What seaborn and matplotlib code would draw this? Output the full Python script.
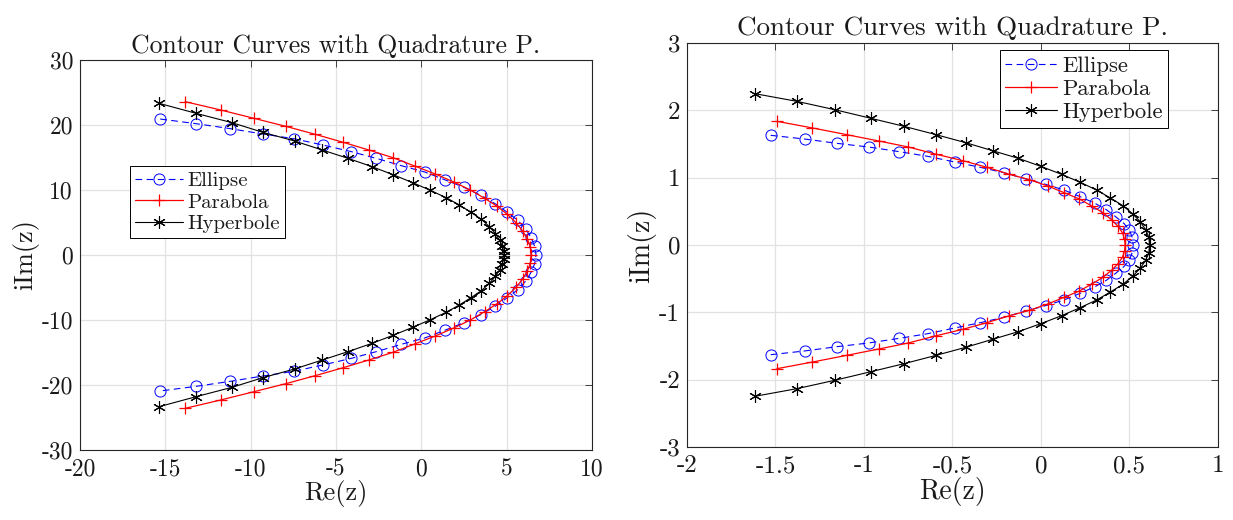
import matplotlib
matplotlib.use("Agg")
import matplotlib.pyplot as plt
import seaborn as sns
import numpy as np

# ---------------- data ----------------
# Left panel
L_ell_x = [-15.30, -13.21, -11.20, -9.30, -7.49, -5.77, -4.10, -2.64, -1.17, 0.20, 1.41, 2.50, 3.48, 4.32, 5.04, 5.65, 6.12, 6.43, 6.64, 6.72,
           6.64, 6.43, 6.12, 5.65, 5.04, 4.32, 3.48, 2.50, 1.41, 0.20, -1.17, -2.64, -4.10, -5.77, -7.49, -9.30, -11.20, -13.21, -15.30]
L_ell_y = [20.92, 20.21, 19.44, 18.62, 17.90, 16.92, 15.90, 14.87, 13.74, 12.77, 11.54, 10.41, 9.18, 7.90, 6.56, 5.33, 4.00, 2.67, 1.33, 0.0,
           -1.33, -2.67, -4.00, -5.33, -6.56, -7.90, -9.18, -10.41, -11.54, -12.77, -13.74, -14.87, -15.90, -16.92, -17.90, -18.62, -19.44, -20.21, -20.92]

L_par_x = [-13.84, -11.76, -9.81, -7.93, -6.21, -4.57, -3.07, -1.66, -0.39, 0.82, 1.90, 2.87, 3.71, 4.44, 5.04, 5.55, 5.94, 6.21, 6.39, 6.45,
           6.39, 6.21, 5.94, 5.55, 5.04, 4.44, 3.71, 2.87, 1.90, 0.82, -0.39, -1.66, -3.07, -4.57, -6.21, -7.93, -9.81, -11.76, -13.84]
L_par_y = [23.59, 22.31, 21.03, 19.79, 18.56, 17.33, 16.15, 14.97, 13.69, 12.46, 11.23, 10.00, 8.72, 7.49, 6.26, 4.97, 3.69, 2.46, 1.23, 0.0,
           -1.23, -2.46, -3.69, -4.97, -6.26, -7.49, -8.72, -10.00, -11.23, -12.46, -13.69, -14.97, -16.15, -17.33, -18.56, -19.79, -21.03, -22.31, -23.59]

L_hyp_x = [-15.36, -13.19, -11.10, -9.28, -7.43, -5.80, -4.30, -2.89, -1.66, -0.51, 0.53, 1.45, 2.23, 2.91, 3.52, 3.99, 4.34, 4.59, 4.75, 4.83, 4.85,
           4.83, 4.75, 4.59, 4.34, 3.99, 3.52, 2.91, 2.23, 1.45, 0.53, -0.51, -1.66, -2.89, -4.30, -5.80, -7.43, -9.28, -11.10, -13.19, -15.36]
L_hyp_y = [23.33, 21.79, 20.36, 18.87, 17.54, 16.15, 14.87, 13.59, 12.36, 11.13, 9.95, 8.82, 7.69, 6.56, 5.49, 4.36, 3.28, 2.26, 1.33, 0.56, 0.0,
           -0.56, -1.33, -2.26, -3.28, -4.36, -5.49, -6.56, -7.69, -8.82, -9.95, -11.13, -12.36, -13.59, -14.87, -16.15, -17.54, -18.87, -20.36, -21.79, -23.33]

# Right panel
R_ell_x = [-1.527, -1.336, -1.153, -0.973, -0.800, -0.640, -0.488, -0.342, -0.210, -0.085, 0.026, 0.129, 0.221, 0.305, 0.369, 0.424, 0.470, 0.500, 0.515, 0.521,
           0.515, 0.500, 0.470, 0.424, 0.369, 0.305, 0.221, 0.129, 0.026, -0.085, -0.210, -0.342, -0.488, -0.640, -0.800, -0.973, -1.153, -1.336, -1.527]
R_ell_y = [1.629, 1.574, 1.510, 1.455, 1.386, 1.317, 1.233, 1.153, 1.074, 0.980, 0.901, 0.817, 0.718, 0.619, 0.525, 0.416, 0.317, 0.218, 0.114, 0.0,
           -0.114, -0.218, -0.317, -0.416, -0.525, -0.619, -0.718, -0.817, -0.901, -0.980, -1.074, -1.153, -1.233, -1.317, -1.386, -1.455, -1.510, -1.574, -1.629]

R_par_x = [-1.492, -1.291, -1.098, -0.917, -0.749, -0.591, -0.441, -0.305, -0.178, -0.065, 0.038, 0.131, 0.217, 0.287, 0.350, 0.400, 0.435, 0.461, 0.472, 0.476,
           0.472, 0.461, 0.435, 0.400, 0.350, 0.287, 0.217, 0.131, 0.038, -0.065, -0.178, -0.305, -0.441, -0.591, -0.749, -0.917, -1.098, -1.291, -1.492]
R_par_y = [1.837, 1.738, 1.639, 1.545, 1.455, 1.347, 1.252, 1.153, 1.050, 0.970, 0.876, 0.777, 0.683, 0.579, 0.480, 0.371, 0.277, 0.178, 0.084, 0.0,
           -0.084, -0.178, -0.277, -0.371, -0.480, -0.579, -0.683, -0.777, -0.876, -0.970, -1.050, -1.153, -1.252, -1.347, -1.455, -1.545, -1.639, -1.738, -1.837]

R_hyp_x = [-1.618, -1.380, -1.166, -0.960, -0.773, -0.593, -0.426, -0.274, -0.128, -0.001, 0.116, 0.221, 0.314, 0.392, 0.463, 0.517, 0.562, 0.591, 0.609, 0.614,
           0.609, 0.591, 0.562, 0.517, 0.463, 0.392, 0.314, 0.221, 0.116, -0.001, -0.128, -0.274, -0.426, -0.593, -0.773, -0.960, -1.166, -1.380, -1.618]
R_hyp_y = [2.248, 2.134, 2.010, 1.881, 1.762, 1.639, 1.520, 1.401, 1.287, 1.168, 1.050, 0.931, 0.817, 0.698, 0.584, 0.465, 0.342, 0.228, 0.119, 0.0,
           -0.119, -0.228, -0.342, -0.465, -0.584, -0.698, -0.817, -0.931, -1.050, -1.168, -1.287, -1.401, -1.520, -1.639, -1.762, -1.881, -2.010, -2.134, -2.248]

series_names = ["Ellipse", "Parabola", "Hyperbole"]
title_text = "Contour Curves with Quadrature P."
xlabel_text = "Re(z)"
ylabel_text = "iIm(z)"

L_xticks = [-20, -15, -10, -5, 0, 5, 10]
L_yticks = [-30, -20, -10, 0, 10, 20, 30]
R_xticks = [-2, -1.5, -1, -0.5, 0, 0.5, 1]
R_xticklabels = ["-2", "-1.5", "-1", "-0.5", "0", "0.5", "1"]
R_yticks = [-3, -2, -1, 0, 1, 2, 3]

# ---------------- styling ----------------
sns.set_style("white")
plt.rcParams["font.family"] = ["cmr10", "DejaVu Serif"]
plt.rcParams["axes.unicode_minus"] = False
plt.rcParams["mathtext.fontset"] = "cm"

TXT = "#1a1a1a"
AX = "#262626"
GRID = "#e2e2e2"

fig = plt.figure(figsize=(12.33, 5.2), dpi=100)
ax1 = fig.add_axes([80 / 1233, (520 - 450) / 520, 512 / 1233, 390 / 520])
ax2 = fig.add_axes([687 / 1233, (520 - 447) / 520, 531 / 1233, 404 / 520])

star = (6, 2, 0)


def draw(ax, ex, ey, px, py, hx, hy):
    sns.lineplot(x=ex, y=ey, sort=False, estimator=None, ax=ax, color="blue",
                 linestyle=(0, (6, 4)), linewidth=0.8, marker="o", markersize=8,
                 markerfacecolor="none", markeredgecolor="blue", markeredgewidth=0.7,
                 label=series_names[0], legend=False)
    sns.lineplot(x=px, y=py, sort=False, estimator=None, ax=ax, color="red",
                 linestyle="-", linewidth=0.9, marker="+", markersize=9,
                 markeredgecolor="red", markeredgewidth=0.9,
                 label=series_names[1], legend=False)
    sns.lineplot(x=hx, y=hy, sort=False, estimator=None, ax=ax, color="black",
                 linestyle="-", linewidth=0.8, marker=star, markersize=9,
                 markeredgecolor="black", markeredgewidth=0.8,
                 label=series_names[2], legend=False)


draw(ax1, L_ell_x, L_ell_y, L_par_x, L_par_y, L_hyp_x, L_hyp_y)
draw(ax2, R_ell_x, R_ell_y, R_par_x, R_par_y, R_hyp_x, R_hyp_y)

ax1.set_xlim(-20, 10)
ax1.set_ylim(-30, 30)
ax1.set_xticks(L_xticks)
ax1.set_xticklabels([str(t) for t in L_xticks])
ax1.set_yticks(L_yticks)
ax1.set_yticklabels([str(t) for t in L_yticks])

ax2.set_xlim(-2, 1)
ax2.set_ylim(-3, 3)
ax2.set_xticks(R_xticks)
ax2.set_xticklabels(R_xticklabels)
ax2.set_yticks(R_yticks)
ax2.set_yticklabels([str(t) for t in R_yticks])

sizes = {ax1: dict(tick=17, label=19, title=18.5, pad=5),
         ax2: dict(tick=18, label=20, title=19.5, pad=6)}

for ax in (ax1, ax2):
    sz = sizes[ax]
    ax.grid(True, color=GRID, linewidth=0.9)
    ax.set_axisbelow(True)
    ax.tick_params(direction="in", top=True, right=True, length=5, width=0.6,
                   colors=AX, labelcolor=TXT, labelsize=sz["tick"])
    ax.tick_params(axis="x", pad=6)
    ax.tick_params(axis="y", pad=5)
    for s in ax.spines.values():
        s.set_visible(True)
        s.set_linewidth(0.8)
        s.set_color(AX)
    ax.set_title(title_text, fontsize=sz["title"], color=TXT, pad=sz["pad"])
    ax.set_xlabel(xlabel_text, fontsize=sz["label"], color=TXT, labelpad=0)
    ax.set_ylabel(ylabel_text, fontsize=sz["label"], color=TXT, labelpad=2)

leg_kw = dict(frameon=True, fancybox=False, edgecolor="black", framealpha=1,
              handletextpad=0.2, labelspacing=0.15,
              borderpad=0.25, borderaxespad=0.0)
l1 = ax1.legend(loc="upper left", bbox_to_anchor=((130 - 80) / 512, (450 - 166) / 390),
                fontsize=15, handlelength=2.3, **leg_kw)
l2 = ax2.legend(loc="upper right", bbox_to_anchor=((1168 - 687) / 531, (447 - 50) / 404),
                fontsize=16.3, handlelength=2.3, **leg_kw)
for l in (l1, l2):
    l.get_frame().set_linewidth(0.7)
    for t in l.get_texts():
        t.set_color(TXT)

fig.savefig("out.png", dpi=100)
